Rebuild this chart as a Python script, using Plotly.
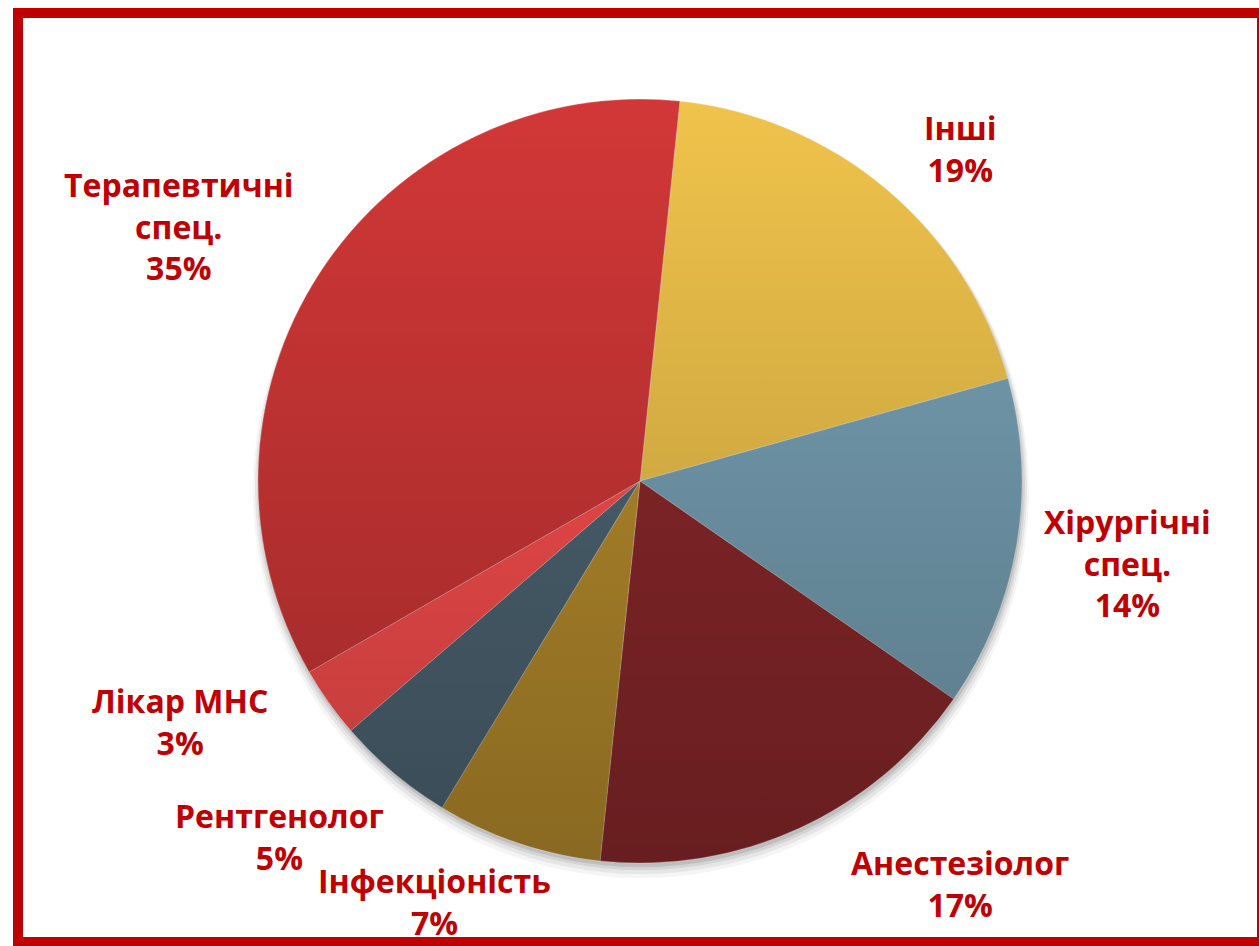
import base64
import plotly.graph_objects as go

# ---- data ----
labels = ["Інші", "Хірургічні спец.", "Анестезіолог", "Інфекціоність",
          "Рентгенолог", "Лікар МНС", "Терапевтичні спец."]
values = [19, 14, 17, 7, 5, 3, 35]
colors = ["#F0C34B", "#78A2B6", "#8C282B", "#B98E2D", "#4E6674", "#FF4F4F", "#D23737"]

# label block centres in pixels (style/layout only)
label_pos = [(960, 148), (1127, 563), (960, 883), (434, 901),
             (279, 836), (180, 721), (179, 226)]

W, H = 1259, 946
cx, cy, r = 640, 481, 382

def px(x):
    return x / W

def py(y):
    return 1 - y / H

fig = go.Figure()
fig.add_trace(go.Pie(
    labels=labels, values=values, sort=False, direction="clockwise", rotation=6,
    marker=dict(colors=colors, line=dict(color="rgba(255,255,255,0.35)", width=0.8)),
    textinfo="none", hoverinfo="label+percent", showlegend=False,
    domain=dict(x=[px(cx - r), px(cx + r)], y=[py(cy + r), py(cy - r)]),
))

annotations = []
for lab, v, (x, y) in zip(labels, values, label_pos):
    txt = lab.replace(" спец.", "<br>спец.") + "<br>" + f"{v}%"
    annotations.append(dict(
        x=px(x), y=py(y), xref="paper", yref="paper", text=txt, showarrow=False,
        xanchor="center", yanchor="middle", align="center",
        font=dict(family="Open Sans", size=32, color="#C00000", weight="bold"),
    ))

# soft drop shadow beneath the pie
shapes = []
for off, extra, a in [(9, 6, 0.04), (7, 4, 0.06), (5, 2, 0.08), (4, 0, 0.10)]:
    shapes.append(dict(
        type="circle", xref="paper", yref="paper", layer="below",
        x0=px(cx - r - extra + 1), x1=px(cx + r + extra + 1),
        y0=py(cy + r + extra + off), y1=py(cy - r - extra + off),
        fillcolor=f"rgba(0,0,0,{a})", line=dict(width=0),
    ))
# red frame
shapes.append(dict(
    type="rect", xref="paper", yref="paper",
    x0=px(18), x1=px(1262), y0=py(942), y1=py(13),
    line=dict(color="#C00000", width=10), fillcolor="rgba(0,0,0,0)",
))

# vertical shading gradient overlay on the pie
svg = """<svg xmlns='http://www.w3.org/2000/svg' width='200' height='200' viewBox='0 0 200 200'>
<defs><linearGradient id='g' x1='0' y1='0' x2='0' y2='1'>
<stop offset='0' stop-color='#000000' stop-opacity='0'/>
<stop offset='1' stop-color='#000000' stop-opacity='0.26'/>
</linearGradient></defs>
<circle cx='100' cy='100' r='100' fill='url(#g)'/></svg>"""
src = "data:image/svg+xml;base64," + base64.b64encode(svg.encode()).decode()

fig.update_layout(
    width=W, height=H, margin=dict(l=0, r=0, t=0, b=0),
    paper_bgcolor="white", plot_bgcolor="white",
    annotations=annotations, shapes=shapes,
    images=[dict(source=src, xref="paper", yref="paper",
                 x=px(cx - r), y=py(cy - r), sizex=2 * r / W, sizey=2 * r / H,
                 xanchor="left", yanchor="top", sizing="stretch", layer="above")],
)

fig.write_html(
    "out.html",
    config={"displayModeBar": False},
    post_script="document.body.style.margin='0';document.body.style.overflow='hidden';",
)
